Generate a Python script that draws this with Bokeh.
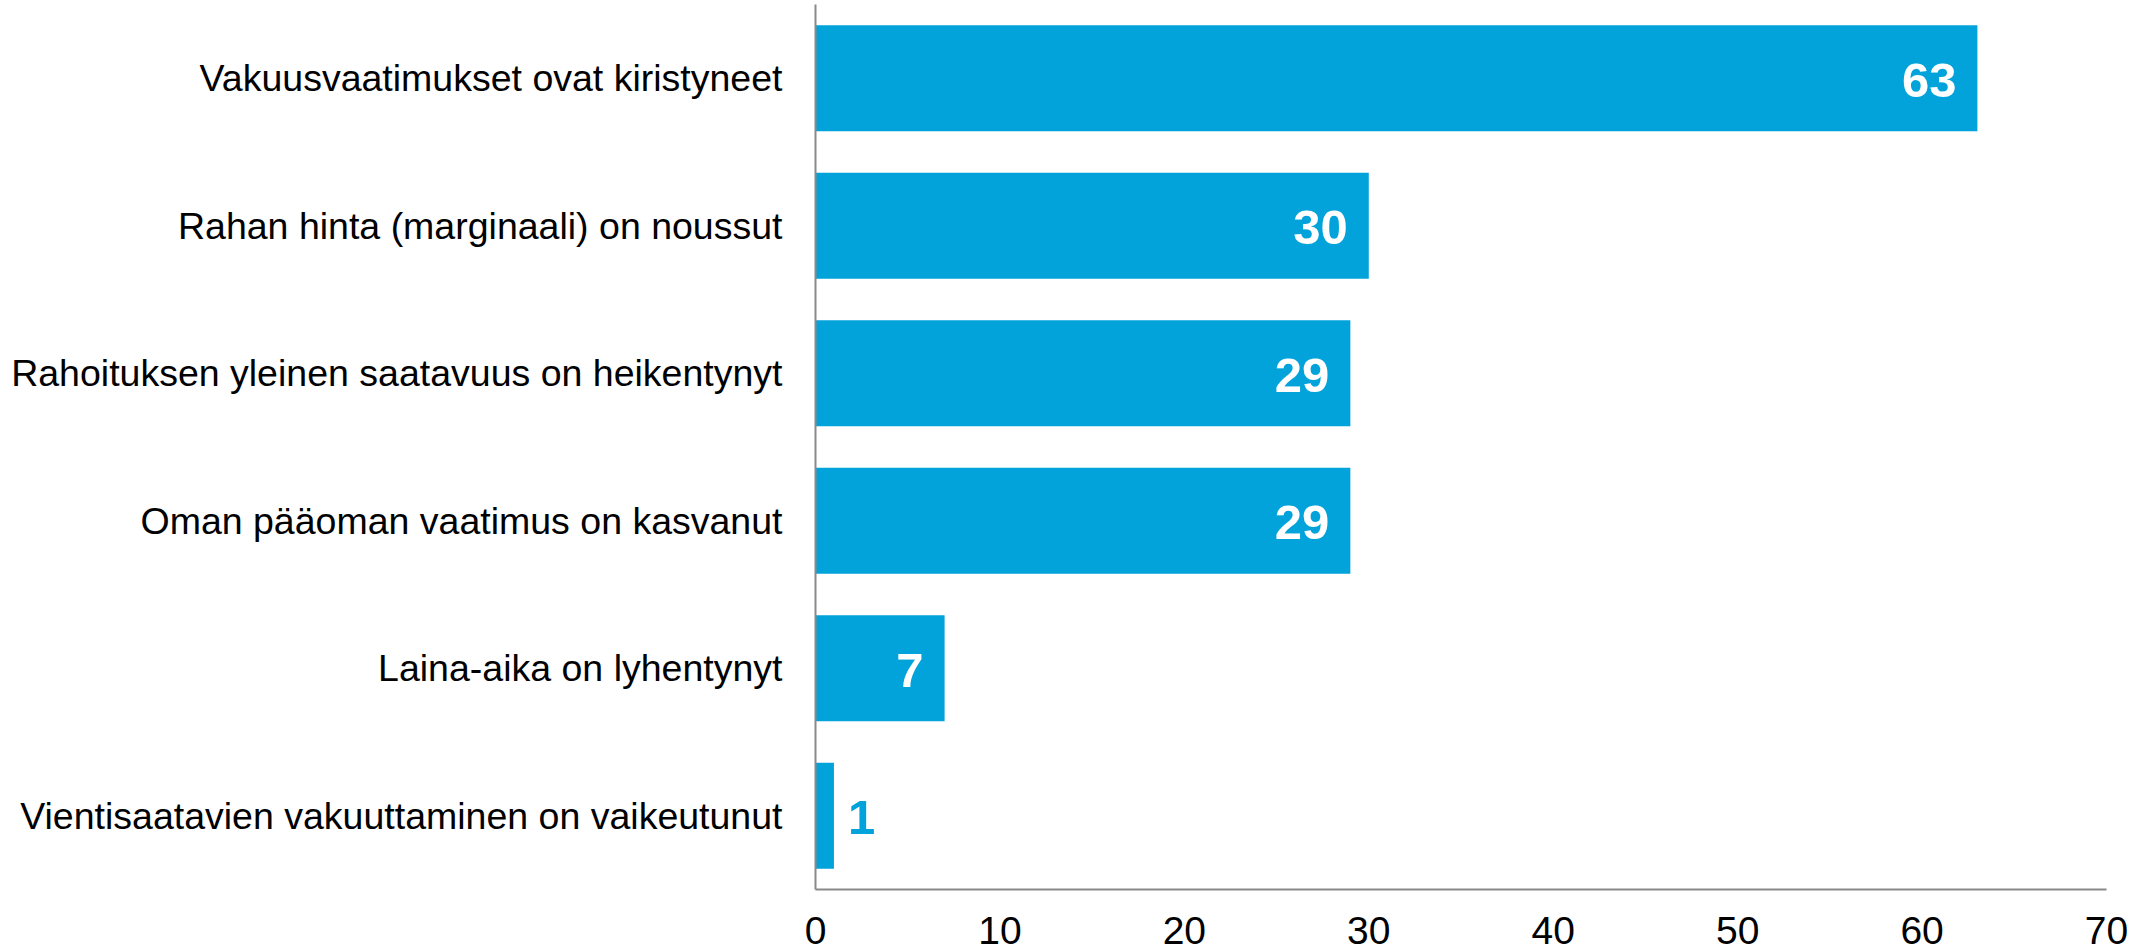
from bokeh.plotting import figure
from bokeh.models import FactorRange, FixedTicker, ColumnDataSource, Range1d
from bokeh.core.properties import value
from bokeh.embed import file_html
from bokeh.resources import INLINE

categories = [
    "Vakuusvaatimukset ovat kiristyneet",
    "Rahan hinta (marginaali) on noussut",
    "Rahoituksen yleinen saatavuus on heikentynyt",
    "Oman pääoman vaatimus on kasvanut",
    "Laina-aika on lyhentynyt",
    "Vientisaatavien vakuuttaminen on vaikeutunut",
]
values = [63, 30, 29, 29, 7, 1]
x_ticks = [0, 10, 20, 30, 40, 50, 60, 70]

BAR = "#02A3DA"
FONT = "Liberation Sans"

p = figure(
    width=2154, height=950,
    y_range=FactorRange(*reversed(categories), range_padding=0),
    x_range=Range1d(0, 70),
    output_backend="svg", toolbar_location=None,
    min_border_left=815, min_border_right=48, min_border_top=4, min_border_bottom=61,
)
p.hbar(y=categories, right=values, left=0, height=0.72, color=BAR, line_color=None)

inside = [i for i, v in enumerate(values) if v >= 5]
outside = [i for i, v in enumerate(values) if v < 5]
src_in = ColumnDataSource(dict(y=[categories[i] for i in inside], x=[values[i] for i in inside],
                               t=[str(values[i]) for i in inside]))
src_out = ColumnDataSource(dict(y=[categories[i] for i in outside], x=[values[i] for i in outside],
                                t=[str(values[i]) for i in outside]))
p.text(x="x", y="y", text="t", source=src_in, text_align="right", text_baseline="middle",
       x_offset=-21, y_offset=2, text_color="white", text_font=value(FONT), text_font_style="bold",
       text_font_size="49px")
p.text(x="x", y="y", text="t", source=src_out, text_align="left", text_baseline="middle",
       x_offset=14, y_offset=2, text_color=BAR, text_font=value(FONT), text_font_style="bold",
       text_font_size="49px")

p.xaxis.ticker = FixedTicker(ticks=x_ticks)
for ax in (p.xaxis, p.yaxis):
    ax.axis_line_color = "#898989"
    ax.axis_line_width = 2
    ax.major_tick_line_color = None
    ax.minor_tick_line_color = None
    ax.major_tick_out = 0
    ax.major_tick_in = 0
    ax.major_label_text_color = "black"
    ax.major_label_text_font = FONT
p.xaxis.major_label_text_font_size = "39px"
p.xaxis.major_label_standoff = 27
p.yaxis.major_label_text_font_size = "37.5px"
p.yaxis.major_label_standoff = 33
p.xgrid.grid_line_color = None
p.ygrid.grid_line_color = None
p.outline_line_color = None
p.background_fill_color = "white"
p.border_fill_color = "white"

open("out.html", "w").write(file_html(p, INLINE))
